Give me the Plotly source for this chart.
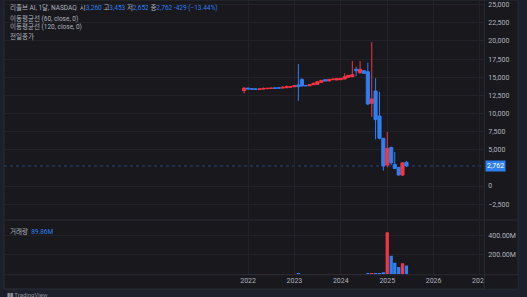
import plotly.graph_objects as go

# ---------------- data ----------------
months = ["2021-12-01", "2022-01-01", "2022-02-01", "2022-03-01", "2022-04-01", "2022-05-01",
          "2022-06-01", "2022-07-01", "2022-08-01", "2022-09-01", "2022-10-01", "2022-11-01",
          "2022-12-01", "2023-01-01", "2023-02-01", "2023-03-01", "2023-04-01", "2023-05-01",
          "2023-06-01", "2023-07-01", "2023-08-01", "2023-09-01", "2023-10-01", "2023-11-01",
          "2023-12-01", "2024-01-01", "2024-02-01", "2024-03-01", "2024-04-01", "2024-05-01",
          "2024-06-01", "2024-07-01", "2024-08-01", "2024-09-01", "2024-10-01", "2024-11-01",
          "2024-12-01", "2025-01-01", "2025-02-01", "2025-03-01", "2025-04-01", "2025-05-01",
          "2025-06-01"]
opens = [13150, 13500, 13400, 13380, 13300, 13360, 13420, 13440, 13520, 13540, 13500, 13550,
         13620, 13680, 13930, 14700, 13870, 13820, 13970, 14020, 14300, 14660, 14480, 14650,
         14620, 14660, 14750, 14990, 15070, 16090, 15620, 15900, 15760, 11400, 13100, 9650,
         6580, 2900, 5320, 2980, 2570, 1510, 3260]
highs = [13600, 13560, 13450, 13420, 13420, 13600, 13500, 13520, 13550, 13560, 13800, 13850,
         13760, 13900, 16820, 14850, 13900, 13990, 14250, 14420, 14600, 14700, 14720, 14760,
         14820, 14870, 15540, 15300, 17240, 16450, 17240, 16000, 17000, 19830, 14850, 13000,
         6600, 7460, 5420, 4710, 2600, 3250, 3453]
lows = [12780, 13330, 13330, 13300, 13280, 13330, 13400, 13420, 13460, 13470, 13480, 13530,
        13600, 13660, 11760, 13750, 13800, 13800, 13950, 14000, 14280, 14460, 14460, 14630,
        14600, 14640, 14730, 14970, 15050, 15170, 15500, 15500, 11170, 9520, 6440, 6440,
        2110, 2570, 2900, 2430, 1450, 1380, 2652]
closes = [13500, 13380, 13360, 13340, 13380, 13450, 13470, 13500, 13480, 13500, 13600, 13700,
          13700, 13850, 13700, 13790, 13820, 13970, 14160, 14380, 14570, 14480, 14700, 14740,
          14800, 14850, 15070, 15260, 15350, 15900, 16090, 15540, 11310, 12000, 9150, 6580,
          2760, 5200, 3200, 2430, 1510, 3191, 2762]
volumes_m = [3, 2, 2, 2, 3, 2, 3, 2, 2, 3, 3, 2,
             3, 2, 4, 3, 2, 2, 3, 2, 3, 2, 3, 2,
             2, 3, 3, 2, 3, 3, 3, 2, 5, 5, 13, 13,
             20, 431, 191, 119, 75, 113, 89.86]

price_ticks = [-2500, 0, 5000, 7500, 10000, 12500, 15000, 17500, 20000, 22500, 25000]
year_ticks = ["2022-01-01", "2023-01-01", "2024-01-01", "2025-01-01", "2026-01-01", "2027-01-01"]
year_labels = ["2022", "2023", "2024", "2025", "2026", "2027"]
vol_ticks_m = [200, 400]
vol_tick_text = ["200.00M", "400.00M"]
last_price = 2762

# ---------------- styling ----------------
UP = "#f23645"
DOWN = "#2f7ff0"
PANEL = "#18181d"
OUTER = "#1c202b"
GRID = "#222228"
SEP = "#2b2b32"
TXT = "#b2b5be"
FONT = "Roboto, Noto Sans CJK KR, sans-serif"

W, H = 527, 297
def px(x):
    return x / W
def py(y):
    return 1 - y / H

vol_colors = [UP if c >= o else DOWN for o, c in zip(opens, closes)]
volumes = [v * 1e6 for v in volumes_m]

fig = go.Figure()
fig.add_trace(go.Candlestick(
    x=months, open=opens, high=highs, low=lows, close=closes,
    increasing=dict(line=dict(color=UP, width=1), fillcolor=UP),
    decreasing=dict(line=dict(color=DOWN, width=1), fillcolor=DOWN),
    whiskerwidth=0, xaxis="x", yaxis="y", showlegend=False, hoverinfo="skip"))
fig.add_trace(go.Bar(
    x=months, y=volumes, marker=dict(color=vol_colors, line=dict(width=0)),
    xaxis="x2", yaxis="y2", showlegend=False, hoverinfo="skip"))

xrange = ["2016-09-27", "2027-02-04"]
xdom = [px(4), px(488)]

fig.update_layout(
    width=W, height=H, margin=dict(l=0, r=0, t=0, b=0),
    paper_bgcolor=OUTER, plot_bgcolor="rgba(0,0,0,0)",
    font=dict(family=FONT, size=7, color=TXT),
    boxgap=0.12, boxgroupgap=0, bargap=0.08,
    xaxis=dict(domain=xdom, anchor="y", range=xrange, type="date",
               showticklabels=False, showgrid=True, gridcolor=GRID, gridwidth=1,
               tickvals=year_ticks, ticktext=year_labels, zeroline=False, showline=False,
               rangeslider=dict(visible=False), fixedrange=True),
    yaxis=dict(domain=[py(219), 1], anchor="x", side="right", range=[-4550, 25648],
               tickvals=price_ticks, tickformat=",", showgrid=True, gridcolor=GRID,
               zeroline=False, showline=False, ticks="", ticklabelstandoff=3,
               tickfont=dict(size=7, color=TXT)),
    xaxis2=dict(domain=xdom, anchor="y2", matches="x", type="date",
                showgrid=True, gridcolor=GRID, tickvals=year_ticks, ticktext=year_labels,
                ticks="", zeroline=False, showline=False,
                tickfont=dict(size=7, color=TXT), ticklabelstandoff=1),
    yaxis2=dict(domain=[py(274.3), py(221)], anchor="x2", side="right", range=[0, 547e6],
                tickvals=[v * 1e6 for v in vol_ticks_m], ticktext=vol_tick_text,
                showgrid=True, gridcolor=GRID, zeroline=False, showline=False,
                ticks="", ticklabelstandoff=3, tickfont=dict(size=7, color=TXT)),
)

shapes = [
    # chart panel
    dict(type="rect", xref="paper", yref="paper", x0=px(4), x1=px(522), y0=py(289), y1=1,
         fillcolor=PANEL, line=dict(color="#2a2e39", width=1), layer="below"),
    # cover for clipped last year label
    dict(type="rect", xref="paper", yref="paper", x0=px(488), x1=px(521.5), y0=py(288.5), y1=py(275.5),
         fillcolor=PANEL, line=dict(width=0), layer="above"),
    # separators
    dict(type="line", xref="paper", yref="paper", x0=px(488), x1=px(488), y0=py(289), y1=1,
         line=dict(color=SEP, width=1), layer="above"),
    dict(type="line", xref="paper", yref="paper", x0=px(4), x1=px(522), y0=py(220), y1=py(220),
         line=dict(color=SEP, width=1), layer="above"),
    dict(type="line", xref="paper", yref="paper", x0=px(4), x1=px(522), y0=py(274.8), y1=py(274.8),
         line=dict(color=SEP, width=1), layer="above"),
    # last price line
    dict(type="line", xref="paper", yref="y", x0=xdom[0], x1=xdom[1], y0=last_price, y1=last_price,
         line=dict(color="rgba(47,127,240,0.45)", width=1, dash="dot"), layer="below"),
]
fig.update_layout(shapes=shapes)

B = DOWN
header = ("리졸브 AI, 1달, NASDAQ  시<span style='color:%s'>3,260</span> 고<span style='color:%s'>3,453</span> "
          "저<span style='color:%s'>2,652</span> 종<span style='color:%s'>2,762</span> "
          "<span style='color:%s'>-429 (−13.44%%)</span>") % (B, B, B, B, B)
annotations = [
    dict(text=header, x=px(8), y=py(0.5), xref="paper", yref="paper", xanchor="left", yanchor="top",
         showarrow=False, font=dict(size=6.5, color=TXT)),
    dict(text="이동평균선 (60, close, 0)", x=px(8), y=py(11.5), xref="paper", yref="paper",
         xanchor="left", yanchor="top", showarrow=False, font=dict(size=6.5, color=TXT)),
    dict(text="이동평균선 (120, close, 0)", x=px(8), y=py(20.5), xref="paper", yref="paper",
         xanchor="left", yanchor="top", showarrow=False, font=dict(size=6.5, color=TXT)),
    dict(text="전일종가", x=px(8), y=py(29.5), xref="paper", yref="paper",
         xanchor="left", yanchor="top", showarrow=False, font=dict(size=6.5, color=TXT)),
    dict(text="거래량  <span style='color:%s'>89.86M</span>" % B, x=px(8), y=py(225), xref="paper",
         yref="paper", xanchor="left", yanchor="top", showarrow=False, font=dict(size=6.5, color=TXT)),
    dict(text="2,762", x=px(488.5), y=last_price, xref="paper", yref="y", xanchor="left",
         yanchor="middle", showarrow=False, bgcolor=DOWN, borderpad=1,
         font=dict(size=7, color="#ffffff")),
    dict(text="<b>▮▮</b> TradingView", x=px(5), y=py(288.5), xref="paper", yref="paper",
         xanchor="left", yanchor="top", showarrow=False, font=dict(size=6, color="#8a8d96")),
]
fig.update_layout(annotations=annotations)

fig.write_html("out.html")
